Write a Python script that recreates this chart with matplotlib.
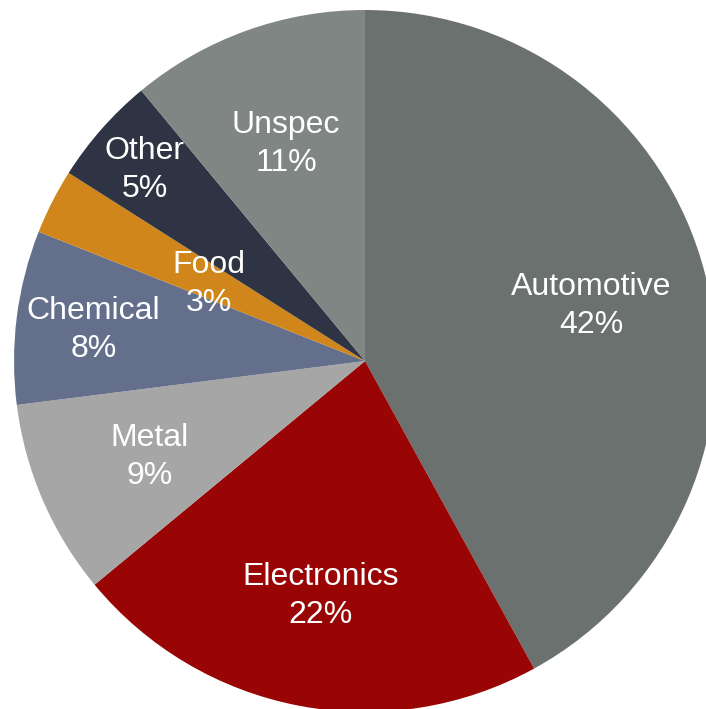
import numpy as np
import matplotlib.pyplot as plt

plt.rcParams['font.family'] = ['Liberation Sans', 'DejaVu Sans']

# data
labels = ['Automotive', 'Electronics', 'Metal', 'Chemical', 'Food', 'Other', 'Unspec']
shares = [42, 22, 9, 8, 3, 5, 11]
colors = ['#6b716e', '#990505', '#a6a6a6', '#64708b', '#d0861a', '#2e3443', '#7f8683']
# how far out each label sits (fraction of radius)
label_dist = [0.666, 0.673, 0.67, 0.78, 0.50, 0.837, 0.665]

fig = plt.figure(figsize=(7.06, 7.09), dpi=100)
ax = fig.add_axes([0, 0, 1, 1])

wedges, _ = ax.pie(shares, colors=colors, startangle=90, counterclock=False,
                   radius=1, wedgeprops=dict(linewidth=0))

for w, name, val, d in zip(wedges, labels, shares, label_dist):
    mid = np.deg2rad((w.theta1 + w.theta2) / 2)
    ax.annotate(f'{name}\n{val}%', (d * np.cos(mid), d * np.sin(mid)),
                xytext=(0, -3), textcoords='offset pixels',
                ha='center', va='center', color='white', fontsize=23,
                linespacing=1.34)

# pie is slightly cropped on the right and bottom
ax.set_xlim(-1.040, 0.9715)
ax.set_ylim(-0.9915, 1.0285)
ax.set_aspect('auto')
ax.axis('off')

fig.savefig('out.png', dpi=100)
